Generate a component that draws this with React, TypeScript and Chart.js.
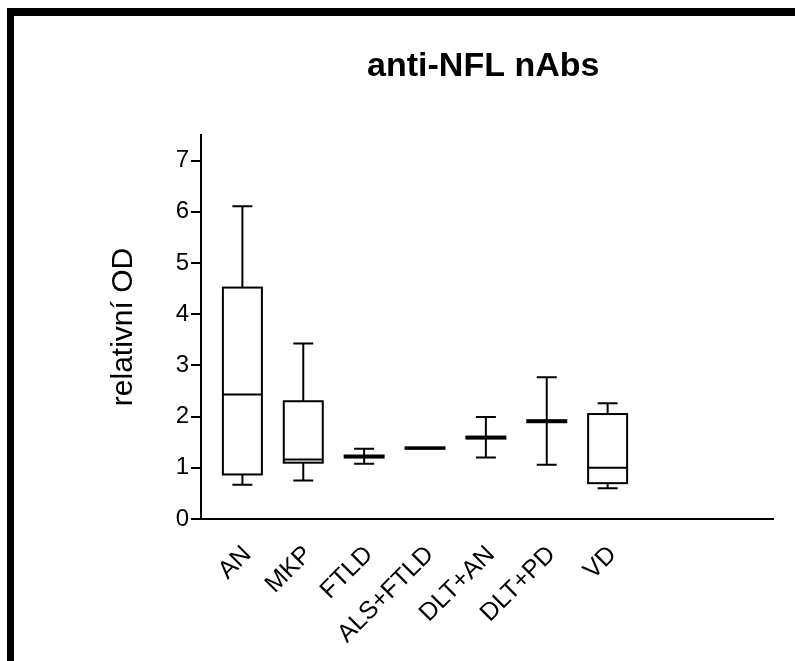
import React, { useEffect, useRef } from "react";
import { Chart, registerables } from "chart.js";

Chart.register(...registerables);

// ---- data ----
const TITLE = "anti-NFL nAbs";
const Y_TITLE = "relativní OD";
const CATEGORIES = ["AN", "MKP", "FTLD", "ALS+FTLD", "DLT+AN", "DLT+PD", "VD"];
const WHISKER_LOW: (number | null)[] = [0.67, 0.75, 1.08, null, 1.2, 1.06, 0.6];
const Q1 = [0.87, 1.1, 1.2, 1.37, 1.57, 1.89, 0.7];
const MEDIAN = [2.43, 1.16, 1.22, 1.385, 1.59, 1.91, 1.0];
const Q3 = [4.52, 2.3, 1.24, 1.4, 1.61, 1.93, 2.05];
const WHISKER_HIGH: (number | null)[] = [6.11, 3.43, 1.37, null, 1.99, 2.77, 2.26];
const Y_TICKS = [0, 1, 2, 3, 4, 5, 6, 7];
const Y_MIN = 0;
const Y_MAX = 7.5;
const X_MIN = -0.68;
const X_MAX = 8.725;

const FONT = '"Liberation Sans", Arial, Helvetica, sans-serif';
const BOX_HALF = 19.5;
const CAP_HALF = 10;

const boxPlugin = {
  id: "boxes",
  beforeDatasetsDraw(chart: any) {
    const { ctx, scales } = chart;
    const xs = scales.x;
    const ys = scales.y;
    ctx.save();
    ctx.strokeStyle = "#000";
    ctx.lineWidth = 2;
    CATEGORIES.forEach((_, i) => {
      const cx = xs.getPixelForValue(i);
      const lo = WHISKER_LOW[i];
      const hi = WHISKER_HIGH[i];
      if (lo !== null && hi !== null) {
        ctx.beginPath();
        ctx.moveTo(cx, ys.getPixelForValue(lo));
        ctx.lineTo(cx, ys.getPixelForValue(hi));
        ctx.stroke();
      }
      const top = ys.getPixelForValue(Q3[i]);
      const bot = ys.getPixelForValue(Q1[i]);
      ctx.fillStyle = "#fff";
      ctx.fillRect(cx - BOX_HALF, top, BOX_HALF * 2, bot - top);
      ctx.strokeRect(cx - BOX_HALF, top, BOX_HALF * 2, bot - top);
    });
    ctx.restore();
  },
};

const titlePlugin = {
  id: "topTitle",
  afterDraw(chart: any) {
    const { ctx, chartArea } = chart;
    ctx.save();
    ctx.font = `bold 34px ${FONT}`;
    ctx.fillStyle = "#000";
    ctx.textAlign = "center";
    ctx.textBaseline = "middle";
    ctx.fillText(TITLE, (chartArea.left + chartArea.right) / 2 - 4, 67);
    ctx.restore();
  },
};

export default function App() {
  const ref = useRef<HTMLCanvasElement | null>(null);

  useEffect(() => {
    if (!ref.current) return;
    const chart = new Chart(ref.current, {
      type: "scatter",
      data: {
        datasets: [
          {
            label: "median",
            data: CATEGORIES.map((_, i) => ({ x: i, y: MEDIAN[i] })),
            pointStyle: "line",
            pointRadius: BOX_HALF,
            pointHoverRadius: BOX_HALF,
            borderColor: "#000",
            backgroundColor: "#000",
            borderWidth: 2,
          },
          {
            label: "caps",
            data: CATEGORIES.flatMap((_, i) => {
              const pts: { x: number; y: number }[] = [];
              const lo = WHISKER_LOW[i];
              const hi = WHISKER_HIGH[i];
              if (lo !== null) pts.push({ x: i, y: lo });
              if (hi !== null) pts.push({ x: i, y: hi });
              return pts;
            }),
            pointStyle: "line",
            pointRadius: CAP_HALF,
            pointHoverRadius: CAP_HALF,
            borderColor: "#000",
            backgroundColor: "#000",
            borderWidth: 2,
          },
        ],
      },
      options: {
        responsive: false,
        animation: false,
        events: [],
        layout: { padding: { top: 135, right: 20, left: 0, bottom: 0 } },
        plugins: {
          legend: { display: false },
          tooltip: { enabled: false },
          title: { display: false },
        },
        scales: {
          x: {
            type: "linear",
            min: X_MIN,
            max: X_MAX,
            afterBuildTicks: (s: any) => {
              s.ticks = CATEGORIES.map((_, i) => ({ value: i }));
            },
            afterFit: (s: any) => {
              s.height = 661 - 519;
            },
            ticks: {
              autoSkip: false,
              minRotation: 45,
              maxRotation: 45,
              padding: 21,
              labelOffset: 5,
              color: "#000",
              font: { family: FONT, size: 25 },
              callback: (v: any) => CATEGORIES[v as number] ?? "",
            },
            grid: { display: true, drawOnChartArea: false, drawTicks: false, color: "#000" },
            border: { display: true, color: "#000", width: 2 },
          },
          y: {
            type: "linear",
            min: Y_MIN,
            max: Y_MAX,
            afterBuildTicks: (s: any) => {
              s.ticks = Y_TICKS.map((v) => ({ value: v }));
            },
            afterFit: (s: any) => {
              s.width = 201;
            },
            ticks: {
              padding: 2,
              color: "#000",
              font: { family: FONT, size: 24 },
              callback: (v: any) => String(v),
            },
            grid: {
              display: true,
              drawOnChartArea: false,
              drawTicks: true,
              tickLength: 10,
              color: "#000",
              lineWidth: 2,
            },
            border: { display: true, color: "#000", width: 2 },
            title: {
              display: true,
              text: Y_TITLE,
              color: "#000",
              font: { family: FONT, size: 30 },
              padding: { top: 106, bottom: 0 },
            },
          },
        },
      },
      plugins: [boxPlugin, titlePlugin],
    });
    return () => chart.destroy();
  }, []);

  return (
    <div
      style={{
        position: "absolute",
        left: 0,
        top: 0,
        width: 795,
        height: 661,
        overflow: "hidden",
        background: "#fff",
      }}
    >
      <div
        style={{
          position: "absolute",
          left: 7,
          top: 8,
          width: 900,
          height: 800,
          borderTop: "8px solid #000",
          borderLeft: "7px solid #000",
        }}
      />
      <canvas
        ref={ref}
        width={795}
        height={661}
        style={{ position: "absolute", left: 0, top: 0, width: 795, height: 661 }}
      />
    </div>
  );
}
